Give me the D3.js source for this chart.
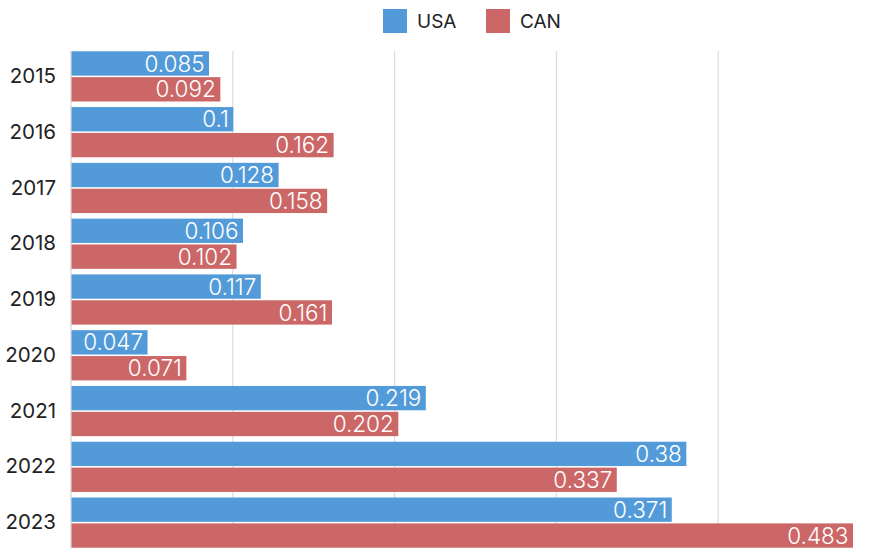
<!DOCTYPE html>
<html>
<head>
<meta charset="utf-8">
<script src="https://cdn.jsdelivr.net/npm/d3@7"></script>
<style>
  html, body { margin: 0; padding: 0; background: #fff; }
  svg { display: block; font-family: Inter, "Noto Sans", sans-serif; }
</style>
</head>
<body>
<svg id="chart" width="878" height="548"></svg>
<script>
// Yearly values per country
const years = ["2015", "2016", "2017", "2018", "2019", "2020", "2021", "2022", "2023"];
const seriesNames = ["USA", "CAN"];
const usaValues = [0.085, 0.1, 0.128, 0.106, 0.117, 0.047, 0.219, 0.38, 0.371];
const canValues = [0.092, 0.162, 0.158, 0.102, 0.161, 0.071, 0.202, 0.337, 0.483];
const gridTicks = [0.1, 0.2, 0.3, 0.4];
const colors = { USA: "#539bd8", CAN: "#cc6767" };

const rows = years.map((yr, i) => ({ year: yr, USA: usaValues[i], CAN: canValues[i] }));

const svg = d3.select("#chart");
const plotLeft = 71, plotRight = 880, plotTop = 48.5, plotBottom = 550.5;

const x = d3.scaleLinear().domain([0, 0.5]).range([plotLeft, plotRight]);
const y = d3.scaleBand().domain(years).range([plotTop, plotBottom]).paddingInner(0.1).paddingOuter(0.05);
const ySub = d3.scaleBand().domain(seriesNames).range([0, y.bandwidth()]).paddingInner(0.06);

// vertical gridlines
svg.append("g").selectAll("line").data(gridTicks).join("line")
  .attr("x1", d => x(d)).attr("x2", d => x(d))
  .attr("y1", 51).attr("y2", 548)
  .attr("stroke", "#dcdcdc").attr("stroke-width", 1.2);

// category axis
const yAxis = svg.append("g").attr("transform", `translate(${plotLeft},0)`)
  .call(d3.axisLeft(y).tickSize(0).tickPadding(15));
yAxis.select(".domain").attr("stroke", "#d6d6d6").attr("stroke-width", 1.2).attr("d", "M0,51V548");
yAxis.selectAll("text").attr("font-size", 20.5).attr("fill", "#222")
  .attr("font-family", "Inter, sans-serif");

// bars
const groups = svg.append("g").selectAll("g").data(rows).join("g")
  .attr("transform", d => `translate(0,${y(d.year)})`);

const cells = groups.selectAll("g").data(d => seriesNames.map(k => ({ key: k, value: d[k] }))).join("g");

cells.append("rect")
  .attr("x", x(0) + 0.5)
  .attr("y", d => ySub(d.key))
  .attr("width", d => x(d.value) - x(0))
  .attr("height", ySub.bandwidth())
  .attr("fill", d => colors[d.key]);

cells.append("text")
  .attr("x", d => x(d.value) - 4)
  .attr("y", d => ySub(d.key) + ySub.bandwidth() / 2)
  .attr("dy", "0.36em")
  .attr("text-anchor", "end")
  .attr("fill", "#fff")
  .attr("font-size", 22.5)
  .attr("font-weight", 300)
  .text(d => d.value);

// legend
const legend = svg.append("g");
const legendX = { USA: 383, CAN: 486 };
seriesNames.forEach(k => {
  const g = legend.append("g").attr("transform", `translate(${legendX[k]},9)`);
  g.append("rect").attr("width", 24).attr("height", 24).attr("fill", colors[k]);
  g.append("text").attr("x", 34).attr("y", 12).attr("dy", "0.36em")
    .attr("font-size", 19).attr("fill", "#222").text(k);
});
</script>
</body>
</html>
